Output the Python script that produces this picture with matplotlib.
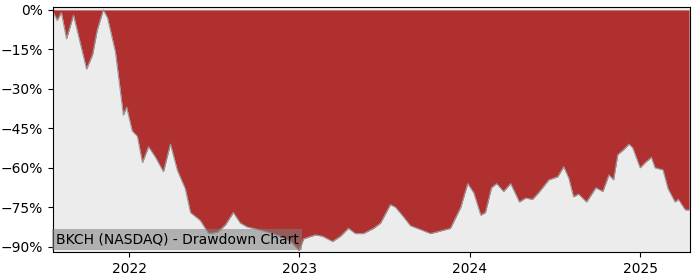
import pandas as pd
import matplotlib
matplotlib.use("Agg")
from matplotlib import pyplot as plt
import matplotlib.ticker as mticker
import matplotlib.dates as mdates

# drawdown readings (percent below running peak)
dates = [
    "2021-07-22", "2021-07-30", "2021-08-08", "2021-08-19", "2021-09-03",
    "2021-10-01", "2021-10-14", "2021-10-24", "2021-11-06", "2021-11-15",
    "2021-12-02", "2021-12-19", "2021-12-26", "2022-01-07", "2022-01-18",
    "2022-01-29", "2022-02-11", "2022-02-26", "2022-03-15", "2022-03-30",
    "2022-04-14", "2022-05-01", "2022-05-12", "2022-06-02", "2022-06-20",
    "2022-07-09", "2022-07-26", "2022-08-12", "2022-08-27", "2022-09-11",
    "2022-10-05", "2022-10-26", "2022-11-21", "2022-12-13", "2022-12-31",
    "2023-01-10", "2023-02-04", "2023-02-19", "2023-03-13", "2023-03-30",
    "2023-04-16", "2023-05-01", "2023-05-18", "2023-06-09", "2023-06-24",
    "2023-07-15", "2023-07-26", "2023-08-12", "2023-08-27", "2023-09-18",
    "2023-10-09", "2023-10-31", "2023-11-21", "2023-12-13", "2023-12-28",
    "2024-01-10", "2024-01-25", "2024-02-04", "2024-02-17", "2024-02-28",
    "2024-03-14", "2024-03-29", "2024-04-17", "2024-04-30", "2024-05-15",
    "2024-05-28", "2024-06-19", "2024-07-08", "2024-07-21", "2024-08-01",
    "2024-08-11", "2024-08-22", "2024-09-08", "2024-09-28", "2024-10-13",
    "2024-10-26", "2024-11-05", "2024-11-14", "2024-11-27", "2024-12-08",
    "2024-12-16", "2025-01-01", "2025-01-12", "2025-01-25", "2025-02-02",
    "2025-02-19", "2025-03-02", "2025-03-17", "2025-03-24", "2025-04-08",
    "2025-04-16",
]
drawdown = [
    -1, -4, -1, -11, -2,
    -22.5, -17, -7.6, 0, -3,
    -16, -40, -37, -46, -48,
    -58, -52, -56, -61.5, -51,
    -61, -68, -77, -80, -85,
    -84.5, -81.7, -77, -81, -82.5,
    -83.5, -84.5, -86, -88, -91.5,
    -87, -85.5, -86, -88, -86,
    -83, -85, -85, -83, -81,
    -74, -75, -78.6, -82, -83.5,
    -85, -84, -83, -75, -66,
    -69.5, -78, -77, -67.6, -66,
    -69, -66, -73, -71.5, -72,
    -69.5, -64.6, -63.4, -59.6, -64,
    -71, -70, -73, -67.6, -69,
    -62.7, -64.6, -55, -53, -51,
    -52.4, -60, -58, -56, -60,
    -60.8, -68, -73, -72, -76,
    -76,
]

x = pd.to_datetime(dates)

fig = plt.figure(figsize=(7, 2.8), dpi=100)
ax = fig.add_axes([0.0757, 0.1, 0.91, 0.875])
ax.set_facecolor("#ececec")

ax.fill_between(x, drawdown, 0, color="#b03030", linewidth=0)
ax.plot(x, drawdown, color="#9a9a9a", linewidth=0.8)

ax.set_ylim(-92, 1.1)
ax.set_xlim(pd.Timestamp("2021-07-21"), pd.Timestamp("2025-04-18"))
ax.set_yticks([0, -15, -30, -45, -60, -75, -90])
ax.yaxis.set_major_formatter(mticker.FuncFormatter(
    lambda v, p: ("%d%%" % v).replace("-", "\u2212")))
ax.xaxis.set_major_locator(mdates.YearLocator())
ax.xaxis.set_major_formatter(mdates.DateFormatter("%Y"))

ax.text(0.004, 0.022, "BKCH (NASDAQ) - Drawdown Chart", transform=ax.transAxes,
        fontsize=10, va="bottom", ha="left",
        bbox=dict(facecolor="gray", alpha=0.55, edgecolor="none", pad=2.5))

fig.savefig("out.png", dpi=100)
